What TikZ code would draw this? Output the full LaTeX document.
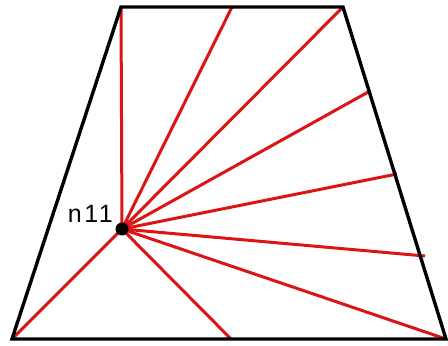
\documentclass[tikz,border=0pt]{standalone}
\usepackage{fontspec}
\setmainfont{Liberation Sans}
\usetikzlibrary{positioning}
\definecolor{meshred}{RGB}{220,20,20}

\begin{document}
\begin{tikzpicture}[
  x=1pt, y=-1pt,
  edge/.style={draw=black, line width=3.4pt, line join=miter},
  spoke/.style={draw=meshred, line width=3pt},
  vert/.style={circle, fill=black, inner sep=0pt, minimum size=13pt},
  lab/.style={font=\fontsize{25}{25}\selectfont\addfontfeatures{LetterSpace=10}, inner sep=0pt},
]
\useasboundingbox (0,0) rectangle (448,346);
% ---- boundary points ----
\coordinate (tl) at (121,7);
\coordinate (tm) at (232,7);
\coordinate (tr) at (343,7);
\coordinate (r1) at (370,91);
\coordinate (r2) at (397,174);
\coordinate (r3) at (425,256);
\coordinate (br) at (446,339);
\coordinate (bm) at (231,339);
\coordinate (bl) at (12,339);
\coordinate (c) at (122,229);
% ---- fan of red spokes ----
\foreach \p in {tl,tm,tr,r1,r2,r3,br,bm,bl}
  \draw[spoke] (c) -- (\p);
% ---- trapezoid ----
\draw[edge] (tl) -- (tr) -- (br) -- (bl) -- cycle;
% ---- centre vertex ----
\node[vert] (n11) at (c) {};
\node[lab, anchor=base east] (n11lab) at (113,222) {n11};
\end{tikzpicture}
\end{document}
